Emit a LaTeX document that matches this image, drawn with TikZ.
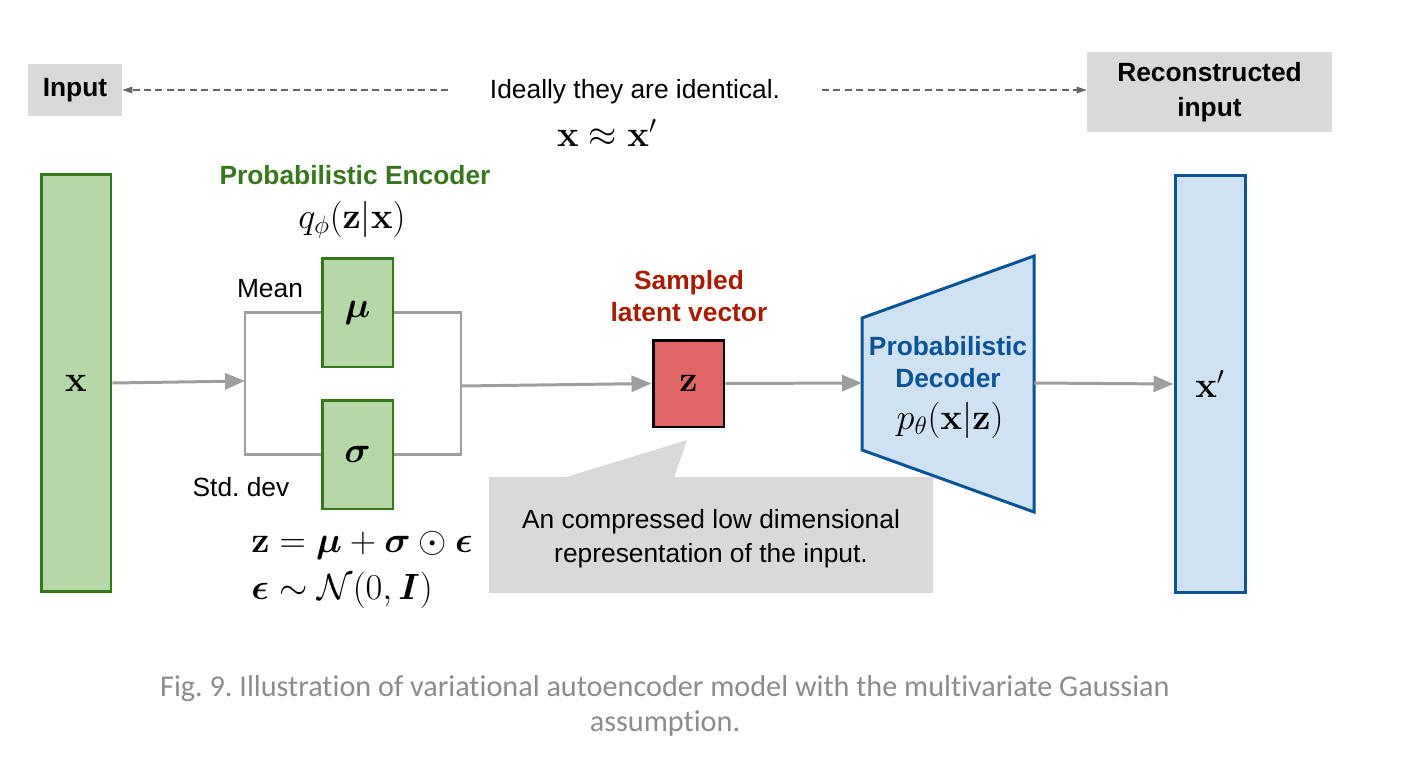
\documentclass[tikz,border=0pt]{standalone}
\usepackage[no-math]{fontspec}
\setmainfont{Liberation Sans}
\newfontfamily\capfont[Ligatures=NoCommon]{Carlito}
\usepackage{amsmath,bm}
\usetikzlibrary{arrows.meta,positioning}
\frenchspacing

\definecolor{encfill}{HTML}{B6D7A8}
\definecolor{encline}{HTML}{38761D}
\definecolor{decfill}{HTML}{CFE2F3}
\definecolor{decline}{HTML}{0B5394}
\definecolor{zfill}{HTML}{E06666}
\definecolor{zred}{HTML}{A61C00}
\definecolor{boxgray}{HTML}{D9D9D9}
\definecolor{flowgray}{HTML}{9E9E9E}
\definecolor{dashgray}{HTML}{666666}
\definecolor{capgray}{HTML}{8C8C8C}

\begin{document}
\begin{tikzpicture}[x=0.02cm, y=-0.02cm,
    every node/.style={font=\fontsize{15}{18}\selectfont},
    mathtxt/.style={font=\fontsize{20.5}{24}\selectfont},
    boxmath/.style={font=\fontsize{21.5}{24}\selectfont},
    eqtxt/.style={font=\fontsize{21}{24}\selectfont, anchor=west, inner sep=0pt},
    tag/.style={fill=boxgray, inner sep=0pt, font=\fontsize{15}{20}\selectfont\bfseries, align=center},
    encbox/.style={rectangle, draw=encline, fill=encfill, line width=1.7pt, minimum width=1.4cm, boxmath},
    decbox/.style={rectangle, draw=decline, fill=decfill, line width=1.7pt, minimum width=1.4cm, boxmath},
    flow/.style={draw=flowgray, line width=1.7pt, -{Triangle[length=0.4cm, width=0.32cm]}},
    wire/.style={draw=flowgray, line width=1.7pt},
    same/.style={draw=dashgray, line width=0.6pt, dash pattern=on 4pt off 2.5pt, -{Triangle[length=0.2cm, width=0.13cm]}}]

    % Fix the page size
    \useasboundingbox (0,0) rectangle (1413,771);

    % Draw input and reconstructed input tags
    \node[tag, minimum width=1.88cm, minimum height=1.04cm] (input) at (75,90) {Input};
    \node[tag, minimum width=4.9cm, minimum height=1.6cm] (recon) at (1209.5,92) {Reconstructed\\input};
    \node (ideal) at (635,92) {Ideally they are identical.};
    \node[mathtxt] (approx) at (607,133) {$\mathbf{x} \approx \mathbf{x'}$};
    \coordinate (dashL) at (448,90);
    \coordinate (dashR) at (822,90);
    \draw[same] (dashL) -- (input.east);
    \draw[same] (dashR) -- (dashR -| recon.west);

    % Draw input and output vectors
    \node[encbox, minimum height=8.36cm] (xin) at (76,383) {$\mathbf{x}$};
    \node[decbox, minimum height=8.36cm] (xout) at (1210,384) {$\mathbf{x'}$};

    % Draw the encoder
    \node[text=encline, font=\fontsize{15}{18}\selectfont\bfseries] (enctitle) at (355,175) {Probabilistic Encoder};
    \node[mathtxt] (qphi) at (352,220) {$q_\phi(\mathbf{z}|\mathbf{x})$};
    \node[encbox, minimum width=1.42cm, minimum height=2.18cm] (mu) at (357.5,312.5) {$\bm{\mu}$};
    \node[encbox, minimum width=1.42cm, minimum height=2.18cm] (sigma) at (357.5,454.5) {$\bm{\sigma}$};
    \node (mean) at (270,289) {Mean};
    \node (std) at (241,487) {Std. dev};
    \node[eqtxt] (reparam) at (251,545) {$\mathbf{z} = \bm{\mu} + \bm{\sigma} \odot \bm{\epsilon}$};
    \node[eqtxt] (noise) at (251,590) {$\bm{\epsilon} \sim \mathcal{N}(0, \bm{I})$};

    % Draw the split and merge wires
    \coordinate (encL) at (245,381);
    \coordinate (encR) at (461,386);
    \draw[wire] (mu.west) -| (encL) |- (sigma.west);
    \draw[wire] (mu.east) -| (encR) |- (sigma.east);
    \draw[flow] (xin.east) -- (encL);

    % Draw the latent vector
    \node[rectangle, draw=black, fill=zfill, line width=1.7pt, minimum width=1.42cm, minimum height=1.74cm, boxmath] (z) at (688.5,383.5) {$\mathbf{z}$};
    \node[text=zred, font=\fontsize{15}{18}\selectfont\bfseries, align=center] (zlabel) at (689,296) {Sampled\\latent vector};
    \draw[flow] (encR) -- (z.west);

    % Draw the decoder
    \coordinate (decA) at (862,318);
    \coordinate (decB) at (1034,256);
    \coordinate (decC) at (1034,512);
    \coordinate (decD) at (862,450);
    \draw[draw=decline, fill=decfill, line width=1.7pt, line join=miter] (decA) -- (decB) -- (decC) -- (decD) -- cycle;
    \coordinate (decL) at (862,383);
    \coordinate (decR) at (1034,383);
    \node[text=decline, font=\fontsize{15}{18}\selectfont\bfseries, align=center] (dectitle) at (948,362) {Probabilistic\\Decoder};
    \node[mathtxt] (ptheta) at (950,420) {$p_\theta(\mathbf{x}|\mathbf{z})$};
    \draw[flow] (z.east) -- (decL);
    \draw[flow] (decR) -- (xout.west);

    % Draw the callout
    \node[fill=boxgray, minimum width=8.88cm, minimum height=2.32cm] (callout) at (711,535) {};
    \fill[boxgray] (563,478) -- (687,440) -- (674,478) -- cycle;
    \node[align=center, font=\fontsize{15}{19.3}\selectfont] (callouttext) at (711,539) {An compressed low dimensional\\representation of the input.};

    % Caption
    \node[text=capgray, font=\fontsize{17.2}{20.4}\selectfont\capfont, align=center] (caption) at (665,706) {Fig. 9. Illustration of variational autoencoder model with the multivariate Gaussian\\assumption.};
\end{tikzpicture}
\end{document}
